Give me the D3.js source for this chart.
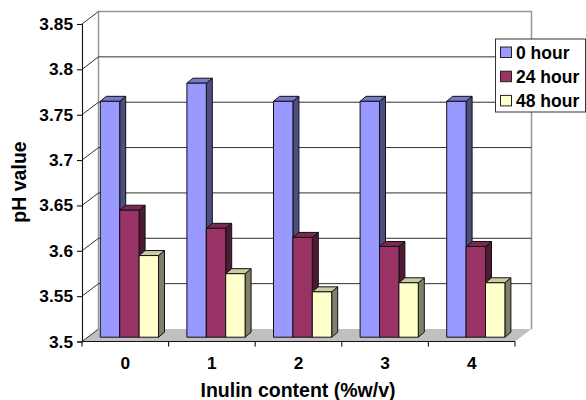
<!DOCTYPE html>
<html><head><meta charset="utf-8">
<script src="https://cdn.jsdelivr.net/npm/d3@7"></script>
<style>html,body{margin:0;padding:0;background:#fff}svg{display:block}text{font-family:"Liberation Sans",Arial,sans-serif;font-weight:bold;fill:#000}</style>
</head><body><div id="c"></div>
<script>
const categories=["0","1","2","3","4"];
const yTicks=[3.5,3.55,3.6,3.65,3.7,3.75,3.8,3.85];
const hour0=[3.76,3.78,3.76,3.76,3.76];
const hour24=[3.64,3.62,3.61,3.6,3.6];
const hour48=[3.59,3.57,3.55,3.56,3.56];
const seriesNames=["0 hour","24 hour","48 hour"];
const seriesValues=[hour0,hour24,hour48];
const front=["#9999ff","#993366","#ffffcc"];
const side=["#4d4d80","#4d1933","#80806a"];
const top_=["#7a7acc","#7a2952","#cccca3"];

const W=586,H=400,depthX=16.5,depthY=12.5,barDX=6,barDY=5;
const svg=d3.select("#c").append("svg").attr("width",W).attr("height",H);
const y=d3.scaleLinear().domain([3.5,3.85]).range([341.5,24]);
const x=d3.scaleBand().domain(categories).range([82,515]);
const inner=d3.scaleBand().domain(d3.range(3)).range([18.3,76.5]);
const barShiftY=-4.3;

// floor and walls
svg.append("path").attr("fill","#c0c0c0")
 .attr("d",`M82,341.5L${82+depthX},${341.5-depthY}H${515+depthX}L515,341.5Z`);
svg.append("path").attr("fill","none").attr("stroke","#969696").attr("stroke-width",1.5)
 .attr("d",`M${82+depthX},${341.5-depthY}V${24-depthY}H${515+depthX}V${341.5-depthY}`);
// grid
const grid=svg.append("g");
yTicks.forEach(t=>{
  if(t!==3.5&&t!==3.85) grid.append("line").attr("x1",82+depthX).attr("x2",515+depthX)
    .attr("y1",y(t)-depthY).attr("y2",y(t)-depthY).attr("stroke","#303030").attr("stroke-width",1);
  grid.append("line").attr("x1",82).attr("x2",82+depthX)
    .attr("y1",y(t)).attr("y2",y(t)-depthY).attr("stroke","#303030").attr("stroke-width",1);
});
// bars
const gb=svg.append("g").attr("stroke","#111").attr("stroke-width",1).attr("stroke-linejoin","round");
categories.forEach((c,i)=>{
  seriesValues.forEach((vals,s)=>{
    const xl=x(c)+inner(s),w=inner.bandwidth(),yt=y(vals[i])+barShiftY,yb=y(3.5)+barShiftY;
    gb.append("path").attr("fill",side[s])
      .attr("d",`M${xl+w},${yt}L${xl+w+barDX},${yt-barDY}V${yb-barDY}L${xl+w},${yb}Z`);
    gb.append("path").attr("fill",top_[s])
      .attr("d",`M${xl},${yt}L${xl+barDX},${yt-barDY}H${xl+w+barDX}L${xl+w},${yt}Z`);
    gb.append("rect").attr("x",xl).attr("y",yt).attr("width",w).attr("height",yb-yt).attr("fill",front[s]);
  });
});
// axes
const ay=svg.append("g").attr("transform","translate(82,0)")
 .call(d3.axisLeft(y).tickValues(yTicks).tickFormat(d=>String(d)).tickSize(5).tickPadding(4));
const ax=svg.append("g").attr("transform","translate(0,341.5)")
 .call(d3.axisBottom(x).tickSize(0).tickPadding(15));
[ay,ax].forEach(g=>{g.selectAll("path,line").attr("stroke","#111").attr("stroke-width",1.1);
 g.selectAll("text").style("font-size","17.3px").attr("font-family",null);});
ax.select("path.domain").attr("d","M82,0H515");
ax.selectAll("text").attr("dy","0.71em");
const edges=categories.map(c=>x(c)).concat([x.range()[1]]);
ax.selectAll("line.edge").data(edges).join("line").attr("class","edge")
  .attr("x1",d=>d).attr("x2",d=>d).attr("y1",0).attr("y2",5).attr("stroke","#111").attr("stroke-width",1.1);
// titles
svg.append("text").attr("x",298).attr("y",396.5).attr("text-anchor","middle").style("font-size","19.5px").text("Inulin content (%w/v)");
svg.append("text").attr("transform","translate(25.5,182) rotate(-90)").attr("text-anchor","middle").style("font-size","19.5px").text("pH value");
// legend
const lg=svg.append("g");
lg.append("rect").attr("x",495.5).attr("y",39).attr("width",90).attr("height",73).attr("fill","#fff").attr("stroke","#333").attr("stroke-width",1);
seriesNames.forEach((n,s)=>{
  const yy=47+24.2*s;
  lg.append("rect").attr("x",500.5).attr("y",yy).attr("width",11).attr("height",10.5).attr("fill",front[s]).attr("stroke","#222");
  lg.append("text").attr("x",516).attr("y",yy+12).style("font-size","17.5px").text(n);
});
</script></body></html>
